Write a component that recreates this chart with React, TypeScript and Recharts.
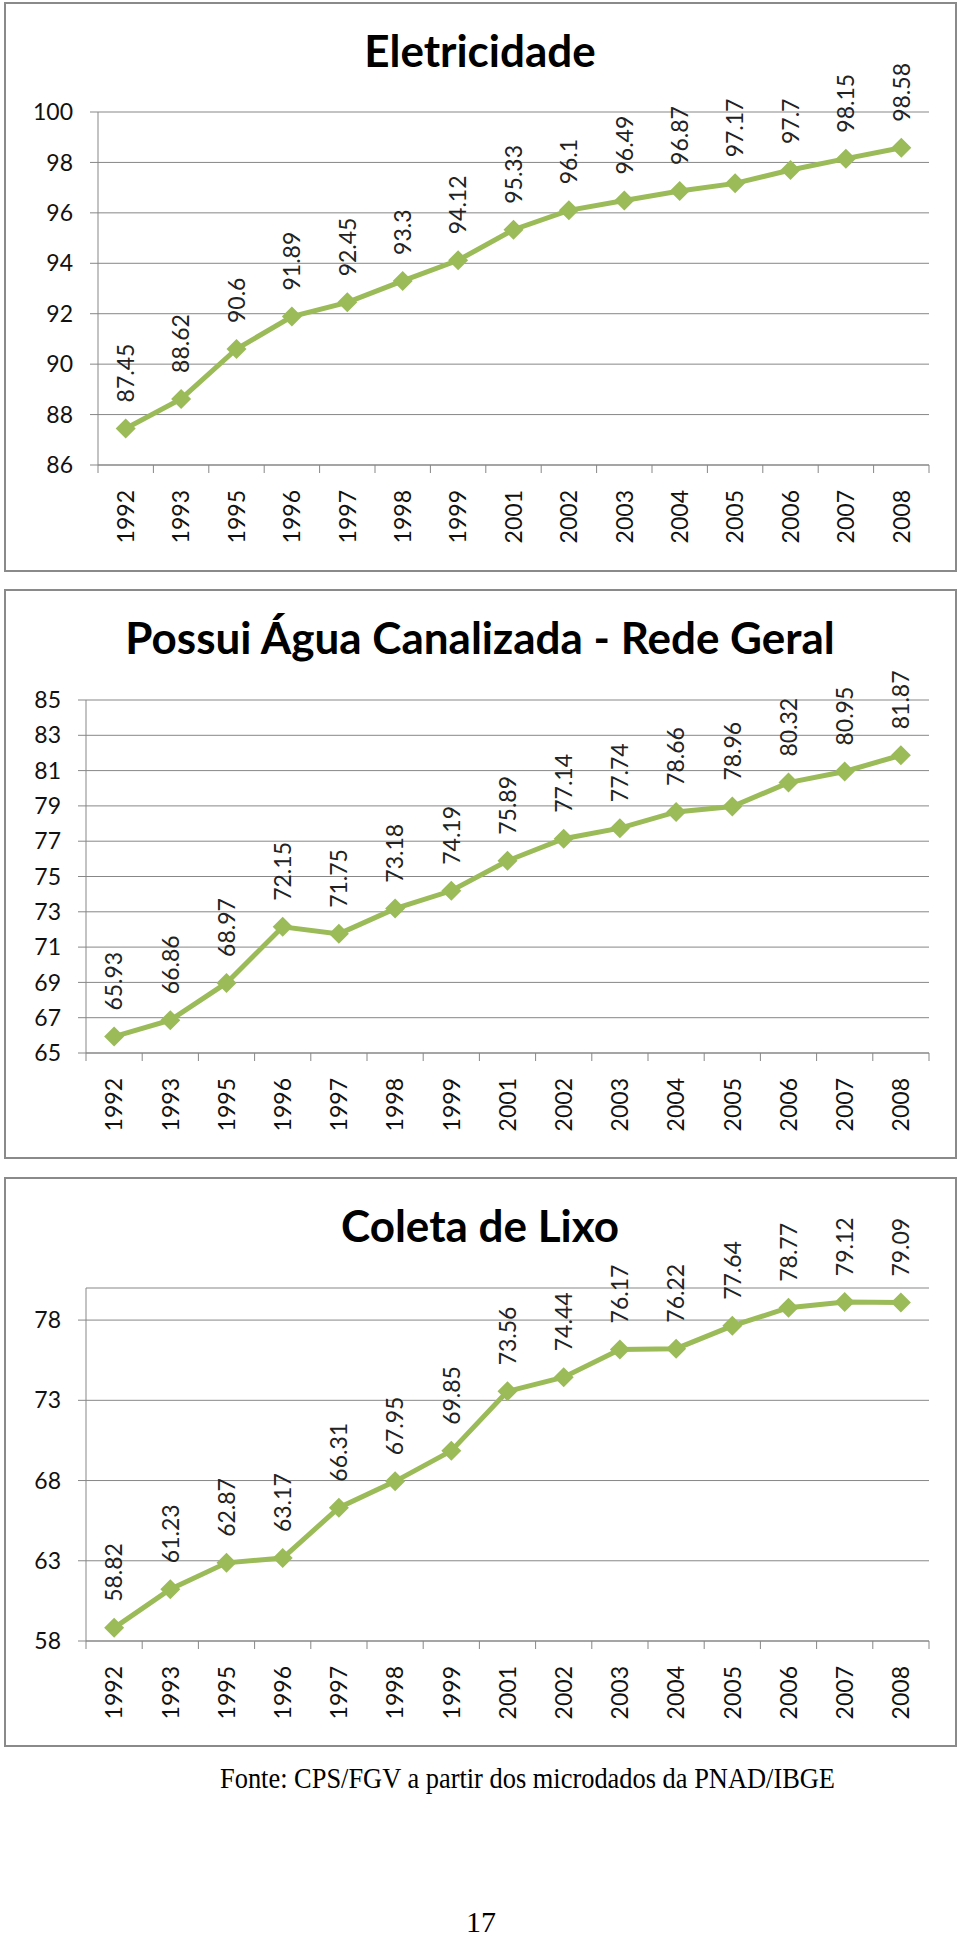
import React from 'react';
import { ComposedChart, Line, XAxis, YAxis, CartesianGrid, LabelList } from 'recharts';

const years = ['1992', '1993', '1995', '1996', '1997', '1998', '1999', '2001', '2002', '2003', '2004', '2005', '2006', '2007', '2008'];

const eletricidade = [87.45, 88.62, 90.6, 91.89, 92.45, 93.3, 94.12, 95.33, 96.1, 96.49, 96.87, 97.17, 97.7, 98.15, 98.58];
const agua = [65.93, 66.86, 68.97, 72.15, 71.75, 73.18, 74.19, 75.89, 77.14, 77.74, 78.66, 78.96, 80.32, 80.95, 81.87];
const lixo = [58.82, 61.23, 62.87, 63.17, 66.31, 67.95, 69.85, 73.56, 74.44, 76.17, 76.22, 77.64, 78.77, 79.12, 79.09];

const eletricidadeTicks = [86, 88, 90, 92, 94, 96, 98, 100];
const aguaTicks = [65, 67, 69, 71, 73, 75, 77, 79, 81, 83, 85];
const lixoTicks = [58, 63, 68, 73, 78];

const GREEN = '#9BBB59';
const GRID = '#878787';
const BORDER = '#8a8a8a';
const FONT = 'Lato, "Open Sans", sans-serif';
const SERIF = '"Liberation Serif", "Times New Roman", serif';

const BOX_W = 953;
const BOX_H = 570;
const CHART_W = 949;
const CHART_H = 566;
const RIGHT = 26;
const PLOT_H = 353;

const Diamond = (props: any) => {
  const { cx, cy } = props;
  if (cx == null || cy == null) return null;
  const r = 10;
  return <polygon points={`${cx},${cy - r} ${cx + r},${cy} ${cx},${cy + r} ${cx - r},${cy}`} fill={GREEN} />;
};

const renderValueLabel = (props: any) => {
  const { x, y, value } = props;
  const ly = y - 26;
  return (
    <text
      x={x}
      y={ly}
      dy="0.36em"
      transform={`rotate(-90 ${x} ${ly})`}
      textAnchor="start"
      fontFamily={FONT}
      fontSize={23}
      fill="#222"
    >
      {value}
    </text>
  );
};

// ticks sit between categories like in Excel, labels in the middle
const makeYearTick = (band: number, count: number) => (props: any) => {
  const { x, y, payload, index } = props;
  const ty = y + 25;
  return (
    <g>
      <line x1={x - band / 2} y1={y} x2={x - band / 2} y2={y + 8} stroke={GRID} />
      {index === count - 1 && <line x1={x + band / 2} y1={y} x2={x + band / 2} y2={y + 8} stroke={GRID} />}
      <text
        x={x}
        y={ty}
        dy="0.36em"
        transform={`rotate(-90 ${x} ${ty})`}
        textAnchor="end"
        fontFamily={FONT}
        fontSize={23}
        fill="#111"
      >
        {payload.value}
      </text>
    </g>
  );
};

interface PanelProps {
  top: number;
  title: string;
  values: number[];
  ticks: number[];
  yMax: number;
  axisWidth: number;
  marginTop: number;
}

const Panel: React.FC<PanelProps> = ({ top, title, values, ticks, yMax, axisWidth, marginTop }) => {
  const data = years.map((year, i) => ({ year, value: values[i] }));
  const band = (CHART_W - axisWidth - RIGHT) / years.length;
  const xHeight = CHART_H - marginTop - PLOT_H;
  return (
    <div
      style={{
        position: 'absolute',
        left: 4,
        top,
        width: BOX_W,
        height: BOX_H,
        border: `2px solid ${BORDER}`,
        boxSizing: 'border-box',
        background: '#fff',
      }}
    >
      <ComposedChart width={CHART_W} height={CHART_H} data={data} margin={{ top: marginTop, right: RIGHT, bottom: 0, left: 0 }}>
        <CartesianGrid vertical={false} stroke={GRID} />
        <XAxis
          dataKey="year"
          height={xHeight}
          interval={0}
          padding={{ left: band / 2, right: band / 2 }}
          axisLine={{ stroke: GRID }}
          tickLine={false}
          tickSize={0}
          tickMargin={0}
          tick={makeYearTick(band, years.length)}
        />
        <YAxis
          type="number"
          width={axisWidth}
          domain={[ticks[0], yMax]}
          ticks={ticks}
          interval={0}
          axisLine={{ stroke: GRID }}
          tickLine={{ stroke: GRID }}
          tickSize={8}
          tickMargin={17}
          tick={{ fill: '#111', fontSize: 23, fontFamily: FONT }}
        />
        <Line
          type="linear"
          dataKey="value"
          stroke={GREEN}
          strokeWidth={5}
          dot={<Diamond />}
          activeDot={false}
          isAnimationActive={false}
        >
          <LabelList dataKey="value" content={renderValueLabel} />
        </Line>
      </ComposedChart>
      <svg width={CHART_W} height={90} style={{ position: 'absolute', left: 0, top: 0, pointerEvents: 'none' }}>
        <text x={474} y={63} textAnchor="middle" fontFamily={FONT} fontWeight="bold" fontSize={44} fill="#000">
          {title}
        </text>
      </svg>
    </div>
  );
};

export default function App() {
  return (
    <div style={{ position: 'absolute', left: 0, top: 0, width: 960, height: 1940, background: '#fff' }}>
      <Panel top={2} title="Eletricidade" values={eletricidade} ticks={eletricidadeTicks} yMax={100} axisWidth={92} marginTop={108} />
      <Panel top={589} title="Possui Água Canalizada - Rede Geral" values={agua} ticks={aguaTicks} yMax={85} axisWidth={80} marginTop={109} />
      <Panel top={1177} title="Coleta de Lixo" values={lixo} ticks={lixoTicks} yMax={80} axisWidth={80} marginTop={109} />
      <svg width={960} height={200} style={{ position: 'absolute', left: 0, top: 1740 }}>
        <text x={220} y={48} fontFamily={SERIF} fontSize={29} fill="#000" textLength={615} lengthAdjust="spacingAndGlyphs">
          Fonte: CPS/FGV a partir dos microdados da PNAD/IBGE
        </text>
        <text x={481} y={192} textAnchor="middle" fontFamily={SERIF} fontSize={30} fill="#000">
          17
        </text>
      </svg>
    </div>
  );
}
